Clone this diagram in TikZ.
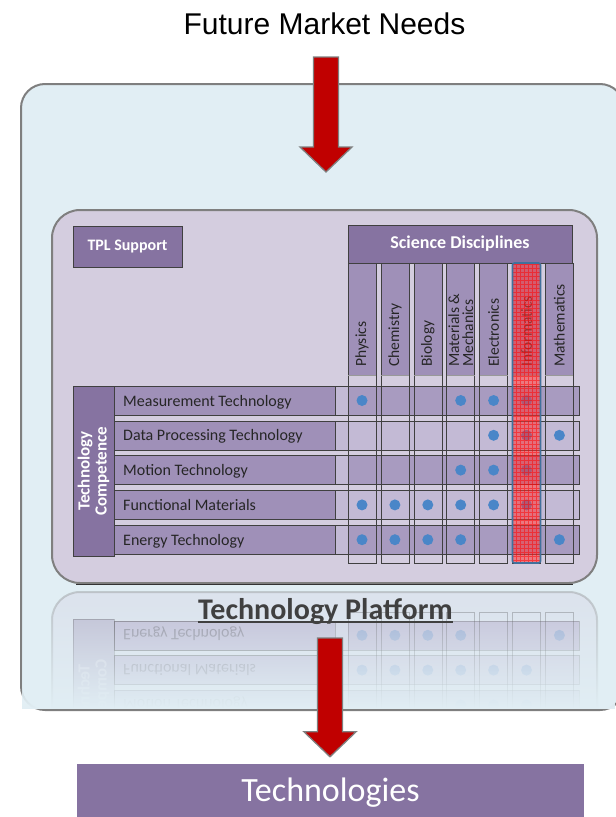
\documentclass[tikz,border=0pt]{standalone}
\usepackage{fontspec}
\setmainfont{Carlito}
\newfontfamily\arialfont{Liberation Sans}
\usetikzlibrary{calc,positioning,fadings}

\definecolor{paleblue}{HTML}{E1EEF4}
\definecolor{framegray}{HTML}{7F7F7F}
\definecolor{lavender}{HTML}{D4CDDF}
\definecolor{plum}{HTML}{8673A1}
\definecolor{midplum}{HTML}{9F90B8}
\definecolor{cellplum}{HTML}{A89BC0}
\definecolor{rowpale}{HTML}{C3BAD5}
\definecolor{dotblue}{HTML}{4A86C8}
\definecolor{inkgray}{HTML}{262626}
\definecolor{titlegray}{HTML}{404040}
\definecolor{arrowred}{HTML}{C00000}
\definecolor{steelblue}{HTML}{41719C}

\tikzset{
    outline/.style={draw=framegray, line width=2pt},
    gridline/.style={draw=black!75, line width=0.6pt},
    headbox/.style={
        draw=black!75,
        fill=plum,
        text=white,
        inner sep=0pt,
        font=\bfseries\fontsize{16}{18}\selectfont
    },
    collabel/.style={
        rotate=90,
        anchor=west,
        align=left,
        inner sep=0pt,
        text=inkgray,
        font=\fontsize{15.5}{14}\selectfont
    },
    rowlabel/.style={
        anchor=base west,
        inner sep=0pt,
        text=inkgray,
        font=\fontsize{16}{18}\selectfont
    },
    hit/.style={circle, fill=dotblue, inner sep=0pt, minimum size=11pt},
    marktint/.style={fill=red!80!white, fill opacity=0.55, rounded corners=2pt},
    markmesh/.style={draw=red, draw opacity=0.5, line width=0.5pt, step=4pt},
    markedge/.style={draw=steelblue, line width=1.6pt, rounded corners=2pt},
    bigarrow/.style={draw=framegray, fill=arrowred, line width=1.3pt},
}

% Block arrow from a tail point down to a tip point
\newcommand{\blockarrow}[2]{%
  \draw[bigarrow] let \p1=(#1), \p2=(#2) in
    (\x1-12.5pt,\y1) -- (\x1-12.5pt,\y2+25pt) -- (\x1-26pt,\y2+25pt)
    -- (\x1,\y2) -- (\x1+26pt,\y2+25pt) -- (\x1+12.5pt,\y2+25pt)
    -- (\x1+12.5pt,\y1) -- cycle;}

% One competence row: index, label, shade of its cells
\newcommand{\competencerow}[3]{%
  \pgfmathsetmacro{\rowy}{386+34.8*#1}
  \fill[rowpale] (114,\rowy) rectangle (579,\rowy+29);
  \fill[#3] (348,\rowy) rectangle (579,\rowy+29);
  \draw[gridline] (114,\rowy) rectangle (579,\rowy+29);
  \draw[gridline, fill=midplum] (114,\rowy) rectangle (335,\rowy+29);
  \node[rowlabel] (row#1) at (123,\rowy+20) {#2};}

% One dot: row, column
\newcommand{\hitdot}[2]{%
  \node[hit] (dot#1#2) at (362+32.9*#2,400.5+34.8*#1) {};}

\begin{document}
\begin{tikzpicture}[x=1pt, y=-1pt]
    \useasboundingbox (0,0) rectangle (616,817);

    % Outer frame
    \draw[outline, fill=paleblue, rounded corners=24pt] (21,84) rectangle (624,710);

    % Reflection under the platform
    \begin{scope}
      \clip (22.2,588) rectangle (616,708.8);
      \begin{scope}[yshift=-1175pt, yscale=-1, opacity=0.33,
                    every node/.append style={transform shape}]
        \draw[outline, fill=lavender, rounded corners=28pt] (52,210) rectangle (597,583);
        \competencerow{2}{Motion Technology}{cellplum}
        \competencerow{3}{Functional Materials}{rowpale}
        \competencerow{4}{Energy Technology}{cellplum}
        \node[headbox, rotate=90, align=center, minimum width=170, minimum height=41,
              font=\bfseries\fontsize{17}{17}\selectfont] (comp mirror) at (93.5,471) {Technology\\Competence};
        \foreach \i in {0,...,6} {
          \draw[gridline] (348+32.9*\i,440) rectangle (376+32.9*\i,563);
        }
        \foreach \r/\c in {2/3,2/4,2/5, 3/0,3/1,3/2,3/3,3/4,3/5, 4/0,4/1,4/2,4/3,4/6} {
          \hitdot{\r}{\c}
        }
      \end{scope}
      \fill[paleblue, path fading=north] (22.2,596) rectangle (616,708.8);
    \end{scope}

    % Platform box
    \draw[outline, fill=lavender, rounded corners=28pt] (52,210) rectangle (597,583);
    \draw[black!80, line width=1.2pt] (76,584.5) -- (573,584.5);

    % Headers
    \node[headbox, minimum width=109, minimum height=41] (tpl) at (127.5,246.5) {TPL Support};
    \node[headbox, minimum width=224, minimum height=38,
          font=\bfseries\fontsize{18}{20}\selectfont] (sci) at (460,244) {Science Disciplines};

    % Competence rows
    \foreach \rowname/\shade [count=\j from 0] in
        {Measurement Technology/cellplum, Data Processing Technology/rowpale,
         Motion Technology/cellplum, Functional Materials/rowpale,
         Energy Technology/cellplum} {
      \competencerow{\j}{\rowname}{\shade}
    }
    \node[headbox, rotate=90, align=center, minimum width=170, minimum height=41,
          font=\bfseries\fontsize{17}{17}\selectfont] (comp) at (93.5,471) {Technology\\Competence};

    % Discipline columns
    \foreach \colname [count=\i from 0] in
        {Physics, Chemistry, Biology, {Materials \&\\Mechanics},
         Electronics, Informatics, Mathematics} {
      \pgfmathsetmacro{\colx}{348+32.9*\i}
      \fill[midplum] (\colx,263) rectangle (\colx+28,375);
      \draw[gridline] (\colx,263) rectangle (\colx+28,563);
      \draw[gridline, black!40] (\colx,375) -- (\colx+28,375);
      \node[collabel] (col\i) at (\colx+14,367) {\colname};
    }

    % Dots: row/column
    \foreach \r/\c in {0/0,0/3,0/4,0/5, 1/4,1/5,1/6, 2/3,2/4,2/5,
                       3/0,3/1,3/2,3/3,3/4,3/5, 4/0,4/1,4/2,4/3,4/6} {
      \hitdot{\r}{\c}
    }

    % Informatics marked
    \fill[marktint] (512.5,263) rectangle (540.5,563);
    \draw[markmesh] (512.5,263) grid (540.5,563);
    \draw[markedge] (512.5,263) rectangle (540.5,563);

    \node[anchor=base, inner sep=0pt, text=titlegray,
          font=\bfseries\fontsize{30}{36}\selectfont] (platform) at (325.5,619) {Technology Platform};
    \draw[titlegray, line width=1.5pt]
      ($(platform.base west)+(0,3)$) -- ($(platform.base east)+(0,3)$);

    % Input
    \node[anchor=base, inner sep=0pt, font=\arialfont\fontsize{30}{36}\selectfont]
      (needs) at (324.5,34) {Future Market Needs};
    \coordinate (needs tail) at (326,57);
    \coordinate (needs tip) at (326,172);
    \blockarrow{needs tail}{needs tip}

    % Output
    \node[fill=plum, text=white, minimum width=507, minimum height=58,
          font=\fontsize{34}{40}\selectfont] (tech) at (330.5,793) {Technologies};
    \coordinate (platform tail) at (330,638);
    \coordinate (tech tip) at ($(tech.north)+(0,-7)$);
    \blockarrow{platform tail}{tech tip}
\end{tikzpicture}
\end{document}
